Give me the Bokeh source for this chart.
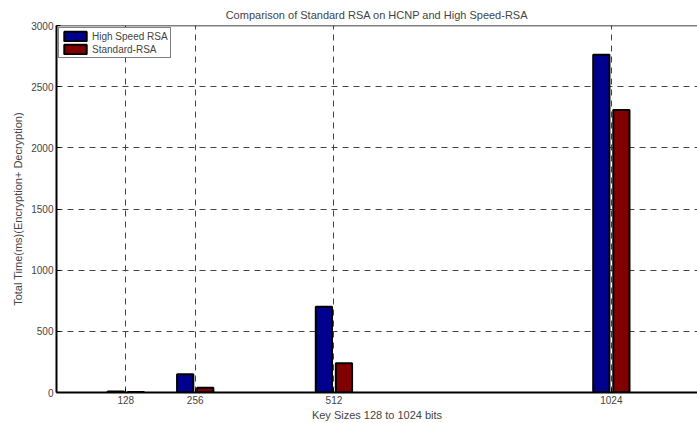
from bokeh.plotting import figure
from bokeh.models import ColumnDataSource, FixedTicker, Range1d, Legend, LegendItem, Span
from bokeh.transform import dodge
from bokeh.embed import file_html
from bokeh.resources import INLINE

key_sizes = [128, 256, 512, 1024]
high_speed_rsa = [8, 150, 700, 2760]
standard_rsa = [4, 38, 240, 2310]
y_ticks = [0, 500, 1000, 1500, 2000, 2500, 3000]

src = ColumnDataSource(dict(k=key_sizes, hs=high_speed_rsa, st=standard_rsa))

FONT = "Liberation Sans"
p = figure(width=697, height=423, output_backend="svg", toolbar_location=None,
           x_range=Range1d(0, 1183), y_range=Range1d(0, 3000),
           min_border_left=56, min_border_right=0, min_border_top=25, min_border_bottom=30,
           title="Comparison of Standard RSA on HCNP and High Speed-RSA")
p.title.text_font = FONT
p.title.text_font_size = "11px"
p.title.text_font_style = "normal"
p.title.align = "center"
p.title.offset = 0

p.outline_line_color = None
p.add_layout(Span(location=y_ticks[-1], dimension="width", line_color="black", line_width=1.5))

r1 = p.vbar(x=dodge("k", -18.5), top="hs", width=30, source=src,
            fill_color="#00008f", line_color="black", line_width=2)
r2 = p.vbar(x=dodge("k", 18.5), top="st", width=30, source=src,
            fill_color="#800000", line_color="black", line_width=2)

for ax in (p.xaxis[0], p.yaxis[0]):
    ax.major_tick_in = 4
    ax.major_tick_out = 0
    ax.minor_tick_in = 0
    ax.minor_tick_out = 0
    ax.axis_line_width = 2
    ax.major_tick_line_width = 1
    ax.major_label_text_font = FONT
    ax.major_label_text_font_size = "10px"
    ax.axis_label_text_font = FONT
    ax.axis_label_text_font_size = "11px"
    ax.axis_label_text_font_style = "normal"
    ax.major_label_standoff = 3

p.xaxis.ticker = FixedTicker(ticks=key_sizes)
p.yaxis.ticker = FixedTicker(ticks=y_ticks)
p.xaxis.axis_label = "Key Sizes 128 to 1024 bits"
p.yaxis.axis_label = "Total Time(ms)(Encryption+ Decryption)"
p.xaxis.axis_label_standoff = 2
p.yaxis.axis_label_standoff = 4

for g in (p.xgrid[0], p.ygrid[0]):
    g.grid_line_color = "#444444"
    g.grid_line_dash = "6 5"
    g.grid_line_width = 1
p.xgrid.ticker = FixedTicker(ticks=key_sizes)
p.ygrid.ticker = FixedTicker(ticks=y_ticks)

legend = Legend(items=[LegendItem(label="High Speed RSA", renderers=[r1]),
                       LegendItem(label="Standard-RSA", renderers=[r2])],
                location="top_left", margin=2, padding=2, spacing=1,
                glyph_width=28, glyph_height=12, label_standoff=3,
                label_text_font=FONT, label_text_font_size="10px",
                label_height=12, border_line_color="black", border_line_width=1,
                background_fill_alpha=1)
p.add_layout(legend)

open("out.html", "w").write(file_html(p, INLINE))
